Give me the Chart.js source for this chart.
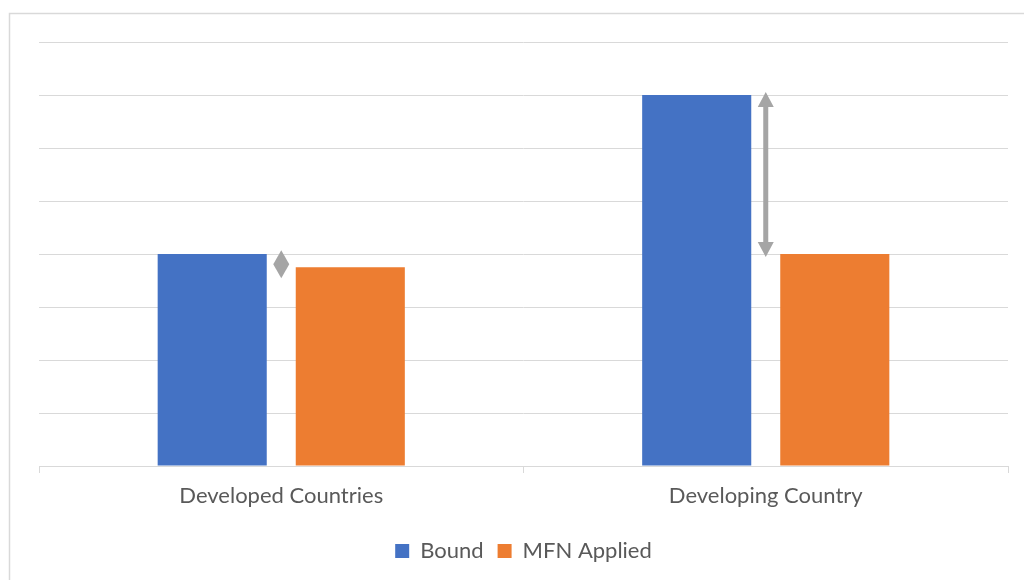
<!DOCTYPE html>
<html>
<head>
<meta charset="utf-8">
<title>Bound vs MFN Applied Tariffs</title>
<script src="https://cdn.jsdelivr.net/npm/chart.js@4/dist/chart.umd.min.js"></script>
<style>
  html, body { margin: 0; padding: 0; background: #ffffff; }
  #wrap { position: relative; width: 1024px; height: 580px; }
</style>
</head>
<body>
<div id="wrap"><canvas id="chart" width="1024" height="580"></canvas></div>
<script>
// Categories and series
const categories = ['Developed Countries', 'Developing Country'];
const boundValues = [4, 7];
const appliedValues = [3.75, 4];
const seriesNames = ['Bound', 'MFN Applied'];

const BLUE = '#4472C4';
const ORANGE = '#ED7D31';
const GRID = '#D9D9D9';
const TEXT = '#595959';
const ARROW = '#A5A5A5';

// Outer frame line along the left and top edges
const framePlugin = {
  id: 'frame',
  beforeDraw(chart) {
    const ctx = chart.ctx;
    ctx.save();
    ctx.strokeStyle = GRID;
    ctx.lineWidth = 1.5;
    ctx.beginPath();
    ctx.moveTo(9.5, chart.height);
    ctx.lineTo(9.5, 13.5);
    ctx.lineTo(chart.width, 13.5);
    ctx.stroke();
    ctx.restore();
  }
};

// Double-headed arrows showing the gap between bound and applied rates
const gapArrowPlugin = {
  id: 'gapArrows',
  afterDatasetsDraw(chart) {
    const ctx = chart.ctx;
    const xs = chart.scales.x;
    const ys = chart.scales.y;
    const head = 15, headW = 8, shaft = 2.5, ext = 3;
    ctx.save();
    ctx.fillStyle = ARROW;
    categories.forEach((c, i) => {
      const x = xs.getPixelForValue(i);
      const ya = ys.getPixelForValue(boundValues[i]);
      const yb = ys.getPixelForValue(appliedValues[i]);
      const top = Math.min(ya, yb) - ext;
      const bot = Math.max(ya, yb) + ext;
      ctx.beginPath();
      if (bot - top < 2 * head) {
        // short gap: the two heads meet back to back as a diamond
        const mid = Math.max(ya, yb) - 3;
        const half = 14;
        ctx.moveTo(x, mid - half);
        ctx.lineTo(x + headW, mid);
        ctx.lineTo(x, mid + half);
        ctx.lineTo(x - headW, mid);
      } else {
        ctx.moveTo(x, top);
        ctx.lineTo(x + headW, top + head);
        ctx.lineTo(x + shaft, top + head);
        ctx.lineTo(x + shaft, bot - head);
        ctx.lineTo(x + headW, bot - head);
        ctx.lineTo(x, bot);
        ctx.lineTo(x - headW, bot - head);
        ctx.lineTo(x - shaft, bot - head);
        ctx.lineTo(x - shaft, top + head);
        ctx.lineTo(x - headW, top + head);
      }
      ctx.closePath();
      ctx.fill();
    });
    ctx.restore();
  }
};

Chart.defaults.font.family = 'Lato, "Open Sans", sans-serif';
Chart.defaults.color = TEXT;

new Chart(document.getElementById('chart'), {
  type: 'bar',
  data: {
    labels: categories,
    datasets: [
      { label: seriesNames[0], data: boundValues, backgroundColor: BLUE },
      { label: seriesNames[1], data: appliedValues, backgroundColor: ORANGE }
    ]
  },
  options: {
    responsive: false,
    animation: false,
    layout: { padding: { left: 39, right: 16, top: 42, bottom: 8 } },
    datasets: {
      bar: { categoryPercentage: 0.57, barPercentage: 0.79 }
    },
    plugins: {
      legend: {
        position: 'bottom',
        labels: {
          boxWidth: 14,
          boxHeight: 14,
          padding: 14,
          font: { size: 22 },
          color: TEXT
        }
      },
      tooltip: { enabled: false }
    },
    scales: {
      x: {
        grid: {
          drawOnChartArea: false,
          drawTicks: true,
          tickLength: 7,
          color: GRID
        },
        border: { color: GRID },
        ticks: { padding: 10, font: { size: 22 }, color: TEXT, maxRotation: 0 },
        afterFit(scale) { scale.height = 60; }
      },
      y: {
        min: 0,
        max: 8,
        ticks: { display: false, stepSize: 1 },
        grid: { color: GRID, drawTicks: false },
        border: { display: false }
      }
    }
  },
  plugins: [framePlugin, gapArrowPlugin]
});
</script>
</body>
</html>
